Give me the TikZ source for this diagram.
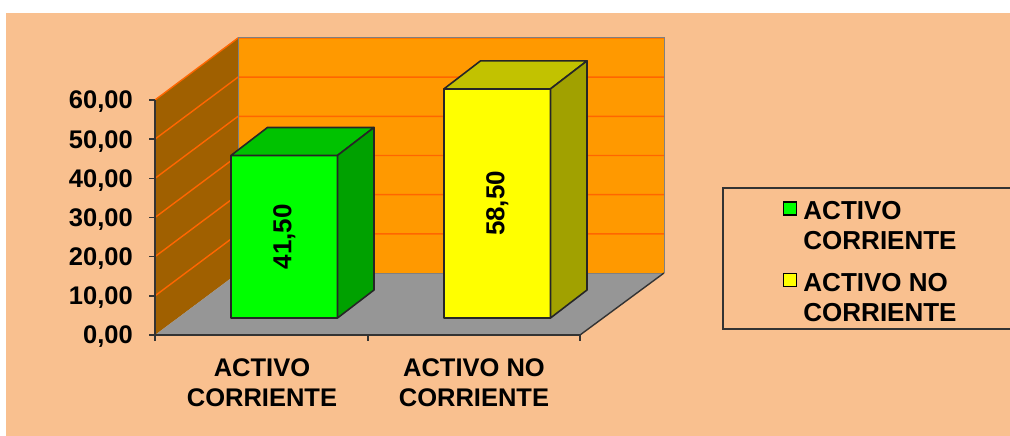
\documentclass[tikz,border=0pt]{standalone}
\usepackage{fontspec}
\setmainfont{Liberation Sans}
\usetikzlibrary{positioning}
\definecolor{peach}{RGB}{249,192,143}
\definecolor{wallorange}{RGB}{255,153,0}
\definecolor{wallbrown}{RGB}{160,96,0}
\definecolor{gridorange}{RGB}{255,102,0}
\definecolor{floorgray}{RGB}{150,150,150}
\definecolor{walledge}{RGB}{128,128,128}
\definecolor{bargreen}{RGB}{0,255,0}
\definecolor{baryellow}{RGB}{255,255,0}
\tikzset{wall/.style={draw=walledge,line width=1pt},
    gridline/.style={draw=gridorange,line width=1.4pt},
    axisline/.style={draw=black!80,line width=1.4pt},
    barface/.style={draw=black!85,line width=1.6pt,line join=round},
    ticklabel/.style={font=\bfseries\fontsize{25.5}{25.5}\selectfont,anchor=east,inner sep=0},
    catlabel/.style={font=\bfseries\fontsize{25.5}{29.5}\selectfont,align=center,inner sep=0},
    valuelabel/.style={font=\bfseries\fontsize{26}{26}\selectfont,rotate=90,inner sep=0},
    swatch/.style={draw=black,line width=1.5pt,minimum size=13pt,inner sep=0},
    legendtext/.style={font=\bfseries\fontsize{26}{30}\selectfont,align=left,anchor=north west,inner sep=0}}

\begin{document}
\begin{tikzpicture}[x=1pt,y=-1pt]

\useasboundingbox (0,0) rectangle (1010,436);
\fill[white] (0,0) rectangle (1010,436);
\fill[peach] (6,13) rectangle (1010,436);

% walls and floor
\fill[wallorange] (238,38) rectangle (664,273);
\fill[wallbrown] (155,100) -- (238,38) -- (238,273) -- (155,335) -- cycle;
\foreach \gridindex [evaluate=\gridindex as \gridy using 335-\gridindex*39.17] in {1,...,6}
{
    \draw [gridline] (155,\gridy) -- (238,\gridy-62) -- (664,\gridy-62);
}
\draw [wall] (238,273) -- (238,38) -- (664,38) -- (664,273);
\fill[floorgray] (155,335) -- (238,273) -- (664,273) -- (580,335) -- cycle;
\draw [wall] (238,273) -- (664,273);
\draw [axisline] (580,335) -- (664,273);

% axes
\draw [axisline] (155,100) -- (155,341);
\draw [axisline] (155,335) -- (580,335);
\foreach \tickindex [evaluate=\tickindex as \ticky using 335-\tickindex*39.17] in {0,...,6}
{
    \draw [axisline] (149,\ticky) -- (155,\ticky);
    \node (t\tickindex) [ticklabel] at (133,\ticky+2) {\pgfmathparse{int(\tickindex*10)}\pgfmathresult,00};
}
\foreach \tickx in {155,368,580}
    \draw [axisline] (\tickx,335) -- (\tickx,341);

% bars
\foreach \barindex/\barvalue/\barcolor/\barlabel [evaluate=\barindex as \leftx using 231+\barindex*213,
                      evaluate=\barvalue as \topy using 318-\barvalue*3.9167] in {0/41.50/bargreen/{41,50},1/58.50/baryellow/{58,50}}
{
    \filldraw [barface,fill=\barcolor] (\leftx,318) rectangle (\leftx+106.5,\topy);
    \filldraw [barface,fill=\barcolor!76!black] (\leftx,\topy) -- (\leftx+106.5,\topy) -- (\leftx+143,\topy-28) -- (\leftx+36.5,\topy-28) -- cycle;
    \filldraw [barface,fill=\barcolor!63!black] (\leftx+106.5,318) -- (\leftx+106.5,\topy) -- (\leftx+143,\topy-28) -- (\leftx+143,290) -- cycle;
    \node (val\barindex) [valuelabel] at (\leftx+53.25,{(318+\topy)/2}) {\barlabel};
}

% category labels
\node (cat0) [catlabel] at (262,382.5) {ACTIVO\\CORRIENTE};
\node (cat1) [catlabel] at (474,382.5) {ACTIVO NO\\CORRIENTE};

% legend
\draw [draw=black!80,line width=1.2pt] (723,188) rectangle (1014,329);
\node (sw0) [swatch,fill=bargreen] at (790,208.5) {};
\node (sw1) [swatch,fill=baryellow] at (790,280) {};
\node (leg0) [legendtext] at ([xshift=6pt]sw0.north east) {ACTIVO\\CORRIENTE};
\node (leg1) [legendtext] at ([xshift=6pt]sw1.north east) {ACTIVO NO\\CORRIENTE};

\end{tikzpicture}
\end{document}
